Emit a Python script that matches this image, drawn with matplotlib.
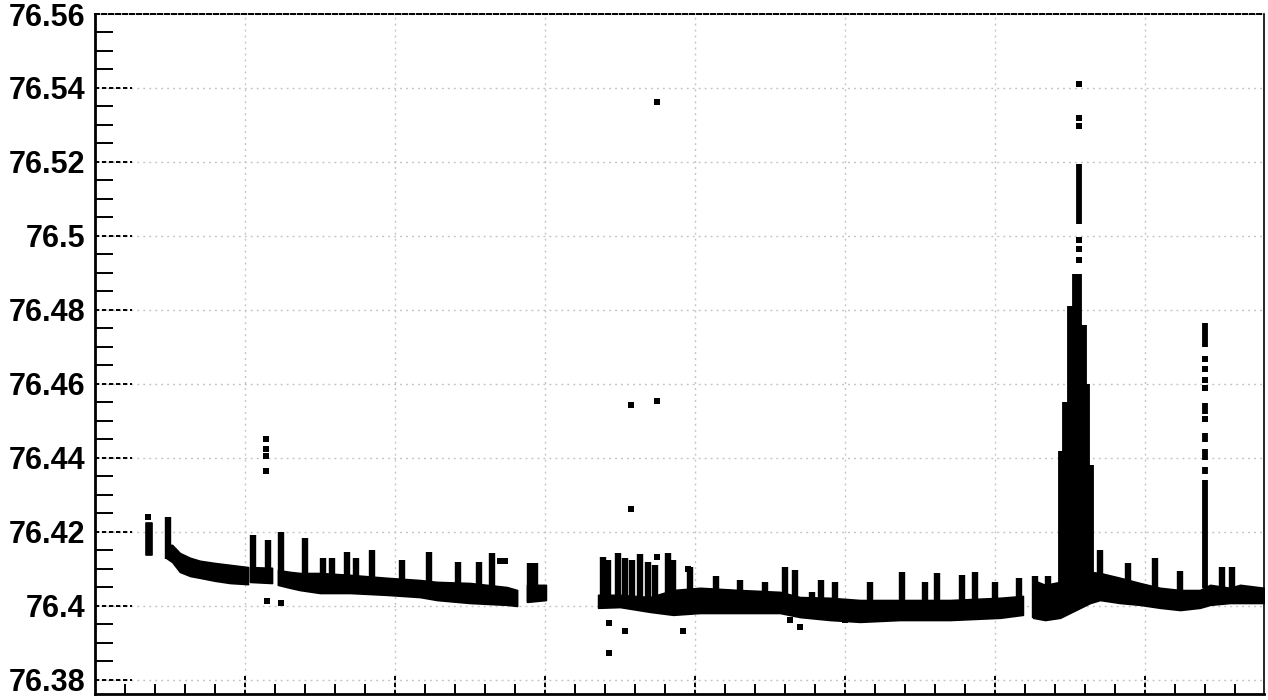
import numpy as np
import matplotlib
matplotlib.use('Agg')
import matplotlib.pyplot as plt
from matplotlib.ticker import MultipleLocator, FuncFormatter
import matplotlib.transforms as mtransforms

# dense point cloud, as lower / upper edge of each continuous stretch
band_a_x = [1.70, 1.90]
band_a_lo = [76.4138, 76.4138]
band_a_hi = [76.4224, 76.4224]

band_b_x = [2.37, 2.57, 2.83, 3.17, 3.50, 4.00, 4.50, 5.10]
band_b_lo = [76.4130, 76.4119, 76.4092, 76.4081, 76.4076, 76.4068, 76.4062, 76.4059]
band_b_hi = [76.4165, 76.4165, 76.4143, 76.4130, 76.4122, 76.4116, 76.4111, 76.4105]

band_c1_x = [5.17, 5.90]
band_c1_lo = [76.4065, 76.4062]
band_c1_hi = [76.4105, 76.4103]

band_c2_x = [6.10, 6.50, 6.83, 7.50, 8.50, 9.73, 10.83, 11.40, 12.50, 13.73, 14.07]
band_c2_lo = [76.4057, 76.4049, 76.4043, 76.4035, 76.4035, 76.4030, 76.4024, 76.4016, 76.4008, 76.4003, 76.4000]
band_c2_hi = [76.4097, 76.4092, 76.4089, 76.4089, 76.4084, 76.4076, 76.4070, 76.4065, 76.4062, 76.4051, 76.4043]

band_c3_x = [14.40, 15.03]
band_c3_lo = [76.4011, 76.4016]
band_c3_hi = [76.4057, 76.4057]

band_d_x = [16.77, 17.50, 18.50, 19.27, 20.17, 21.50, 22.83, 23.50, 24.50, 25.50, 26.83, 28.50, 30.17, 30.93]
band_d_lo = [76.3995, 76.3997, 76.3984, 76.3976, 76.3981, 76.3981, 76.3981, 76.3970, 76.3962, 76.3957, 76.3962, 76.3962, 76.3968, 76.3976]
band_d_hi = [76.4030, 76.4030, 76.4024, 76.4043, 76.4049, 76.4043, 76.4038, 76.4024, 76.4022, 76.4016, 76.4016, 76.4016, 76.4022, 76.4027]

band_e_x = [31.27, 31.67, 32.17, 33.17, 33.50, 34.17, 34.83, 35.50, 36.17, 36.83, 37.17, 37.83, 38.17, 38.97]
band_e_lo = [76.3968, 76.3962, 76.3968, 76.4008, 76.4016, 76.4008, 76.4003, 76.3995, 76.3989, 76.3995, 76.4003, 76.4008, 76.4008, 76.4008]
band_e_hi = [76.4070, 76.4057, 76.4065, 76.4092, 76.4089, 76.4076, 76.4062, 76.4049, 76.4043, 76.4043, 76.4057, 76.4049, 76.4057, 76.4049]

bands = [(band_a_x, band_a_lo, band_a_hi), (band_b_x, band_b_lo, band_b_hi),
         (band_c1_x, band_c1_lo, band_c1_hi), (band_c2_x, band_c2_lo, band_c2_hi),
         (band_c3_x, band_c3_lo, band_c3_hi), (band_d_x, band_d_lo, band_d_hi),
         (band_e_x, band_e_lo, band_e_hi)]

# short upward excursions on top of the band
spike_x = [2.43, 5.27, 5.77, 6.20, 7.00, 7.60, 7.90, 8.40, 8.70, 9.23, 10.23, 11.13, 12.10, 12.80,
           13.23, 14.50, 14.67,
           16.93, 17.10, 17.43, 17.67, 17.90, 18.17, 18.43, 18.67, 19.10, 19.27, 19.83, 20.70,
           21.50, 22.33, 23.00, 23.33, 23.90, 24.20, 24.67, 25.83, 26.90, 27.67, 28.07, 28.90,
           29.33, 30.00, 30.80,
           31.33, 31.77, 33.50, 34.43, 35.33, 36.17, 37.57, 37.90]
spike_top = [76.4241, 76.4192, 76.4178, 76.4200, 76.4184, 76.4130, 76.4130, 76.4146, 76.4130, 76.4151,
             76.4124, 76.4146, 76.4119, 76.4119, 76.4143, 76.4116, 76.4116,
             76.4132, 76.4124, 76.4143, 76.4130, 76.4124, 76.4141, 76.4119, 76.4111, 76.4143,
             76.4124, 76.4105, 76.4081, 76.4070, 76.4065, 76.4105, 76.4097, 76.4038, 76.4070,
             76.4065, 76.4065, 76.4092, 76.4065, 76.4089, 76.4084, 76.4092, 76.4065, 76.4076,
             76.4081, 76.4081, 76.4151, 76.4116, 76.4130, 76.4095, 76.4105, 76.4105]

# vertical runs of points in the two peaks
col_x = [32.20, 32.33, 32.50, 32.67, 32.80, 32.80, 32.95, 33.07, 33.20,
         37.00, 37.00, 37.00, 37.00, 37.00, 37.00]
col_lo = [76.4016, 76.4016, 76.4016, 76.4016, 76.4016, 76.5032, 76.4022, 76.4022, 76.4030,
          76.4700, 76.4519, 76.4443, 76.4395, 76.4357, 76.4049]
col_hi = [76.4420, 76.4550, 76.4811, 76.4897, 76.4897, 76.5195, 76.4760, 76.4600, 76.4380,
          76.4765, 76.4549, 76.4468, 76.4424, 76.4376, 76.4341]

# isolated points
pt_x = [1.78, 5.70, 5.70, 5.70, 5.70, 5.73, 6.20, 13.50, 13.67,
        17.87, 18.73, 18.73, 17.87, 18.73, 19.77, 17.13, 17.67, 19.60, 17.13,
        23.17, 23.50, 25.00,
        32.80, 32.80, 32.80, 32.80, 32.80, 32.80,
        37.00, 37.00, 37.00, 37.00, 37.00]
pt_y = [76.4241, 76.4451, 76.4424, 76.4405, 76.4365, 76.4014, 76.4008, 76.4122, 76.4122,
        76.4543, 76.4554, 76.5362, 76.4262, 76.4132, 76.4100, 76.3954, 76.3932, 76.3932, 76.3873,
        76.3962, 76.3943, 76.3962,
        76.5411, 76.5319, 76.5297, 76.4989, 76.4965, 76.4935,
        76.4668, 76.4641, 76.4611, 76.4589, 76.4505]

W, H = 1268, 700
fig = plt.figure(figsize=(W / 100, H / 100), dpi=100)
L, R, T, B = 95, 1264, 14, 694
ax = fig.add_axes([L / W, (H - B) / H, (R - L) / W, (B - T) / H])

ax.set_xlim(0, (R - L) / 30)
ax.set_ylim(76.3762, 76.56)

for xs, lo, hi in bands:
    ax.fill_between(xs, lo, hi, color='black', lw=1.2, edgecolor='black', zorder=3)

all_x = np.concatenate([b[0] for b in bands])
all_lo = np.concatenate([b[1] for b in bands])
spike_base = np.interp(spike_x, all_x, all_lo)
ax.vlines(spike_x, spike_base, spike_top, color='black', lw=4.6, capstyle='butt', zorder=3)
ax.vlines(col_x, col_lo, col_hi, color='black', lw=4.2, capstyle='butt', zorder=3)
ax.plot(pt_x, pt_y, 's', color='black', ms=3.8, mew=0, zorder=3)

# axes in ROOT style
ax.xaxis.set_major_locator(MultipleLocator(5))
ax.xaxis.set_minor_locator(MultipleLocator(1))
ax.yaxis.set_major_locator(MultipleLocator(0.02))
ax.yaxis.set_minor_locator(MultipleLocator(0.005))
ax.yaxis.set_major_formatter(FuncFormatter(lambda v, p: '%g' % round(v, 4)))
ax.set_xticklabels([])
ax.tick_params(axis='both', which='both', direction='in')
ax.tick_params(axis='y', which='major', length=0, pad=7)
ax.tick_params(axis='y', which='minor', length=13, width=1.4)
ax.tick_params(axis='x', which='major', length=0)
ax.tick_params(axis='x', which='minor', length=7.5, width=1.4)
for lab in ax.get_yticklabels():
    lab.set_fontfamily(['Liberation Sans', 'DejaVu Sans'])
    lab.set_fontweight('bold')
    lab.set_fontsize(22)

ax.grid(True, which='major', color='#c4c4c4', ls=(0, (1.4, 2.9)), lw=1.0)
ax.set_axisbelow(True)

ty = mtransforms.blended_transform_factory(ax.transAxes, ax.transData)
for t in np.arange(76.38, 76.561, 0.02):
    ax.plot([0, 37 / (R - L)], [t, t], transform=ty, color='black',
            ls=(0, (2.2, 1.4)), lw=1.4, zorder=4, clip_on=False)
tx = mtransforms.blended_transform_factory(ax.transData, ax.transAxes)
for t in np.arange(5, 36, 5):
    ax.plot([t, t], [0, 18 / (B - T)], transform=tx, color='black',
            ls=(0, (2.2, 1.4)), lw=1.4, zorder=4)

ax.spines['left'].set_linewidth(2)
ax.spines['bottom'].set_linewidth(2)
ax.spines['top'].set_linestyle((0, (2.2, 1.4)))
ax.spines['top'].set_linewidth(1.4)
ax.spines['right'].set_linewidth(1.2)

fig.savefig('out.png', dpi=100)
